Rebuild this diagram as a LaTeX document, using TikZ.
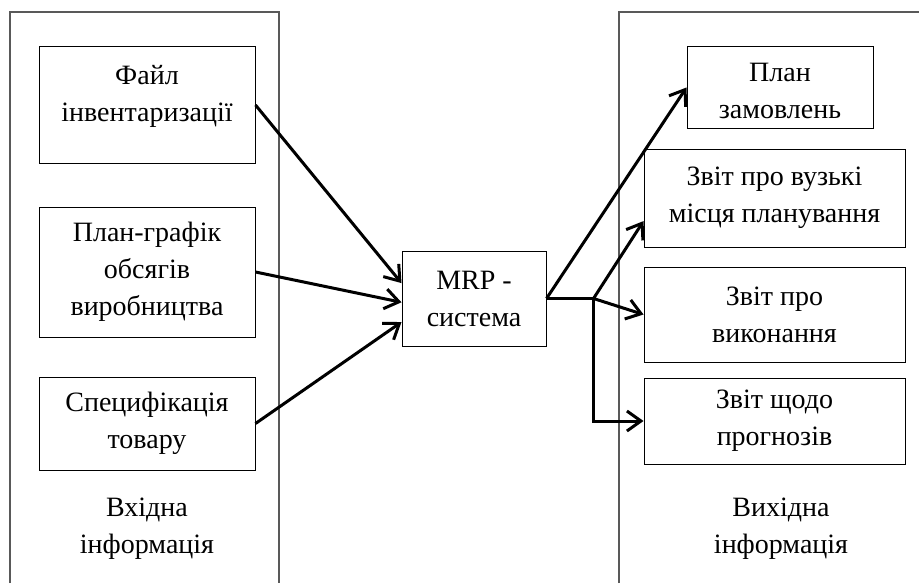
\documentclass[tikz,border=0pt]{standalone}
\usepackage{fontspec}
\setmainfont{Liberation Serif}
\usetikzlibrary{arrows.meta,calc}

\newcommand{\txtsize}[0]{\fontsize{14}{18.5}\selectfont}

\begin{document}
\begin{tikzpicture}[x=0.5pt, y=-0.5pt,
  box/.style={draw, line width=0.5pt, align=center, inner sep=0pt, font=\txtsize},
  caption/.style={align=center, font=\txtsize},
  panel/.style={draw=black!65, line width=0.7pt},
  flow/.style={line width=1.5pt, -{Straight Barb[length=7pt,width=10pt]}}]

\useasboundingbox (0,0) rectangle (919,583);

% panels
\draw[panel] (10,583) -- (10,12) -- (279,12) -- (279,583);
\draw[panel] (619,583) -- (619,12) -- (919,12);

% input
\node[box, minimum width=108pt, minimum height=58.5pt,
  label={[caption, yshift=4.5pt]center:Файл\\інвентаризації}] (inv) at (147,105) {};
\node[box, minimum width=108pt, minimum height=65pt] (plan) at (147,272) {План-графік\\обсягів\\виробництва};
\node[box, minimum width=108pt, minimum height=46.5pt] (spec) at (147,423.5) {Специфікація\\товару};
\node[caption] (in) at (147,529) {Вхідна\\інформація};

\node[box, minimum width=72pt, minimum height=47.5pt] (mrp) at (474,298.5) {MRP -\\система};

% output
\node[box, minimum width=93pt, minimum height=40.5pt,
  label={[caption, yshift=-1.5pt]center:План\\замовлень}] (ord) at (780,87.5) {};
\node[box, minimum width=130.5pt, minimum height=49pt] (narrow) at (774.5,198) {Звіт про вузькі\\місця планування};
\node[box, minimum width=130.5pt, minimum height=47.5pt] (exec) at (774.5,314.5) {Звіт про\\виконання};
\node[box, minimum width=130.5pt, minimum height=43pt] (fcst) at (774.5,421) {Звіт щодо\\прогнозів};
\node[caption] (out) at (781,529) {Вихідна\\інформація};

\draw[flow] (inv.east) -- (mrp.168);
\draw[flow] (plan.east) -- (mrp.183);
\draw[flow] (spec.east) -- (mrp.198);

\coordinate (split) at ($(mrp.east)+(47,0)$);
\draw[flow] (mrp.east) -- (ord.west);
\draw[line width=1.5pt] (mrp.east) -- (split);
\draw[flow] (split) -- (narrow.190);
\draw[flow] (split) -- (exec.west);
\draw[flow] (split) |- (fcst.west);

\end{tikzpicture}
\end{document}
